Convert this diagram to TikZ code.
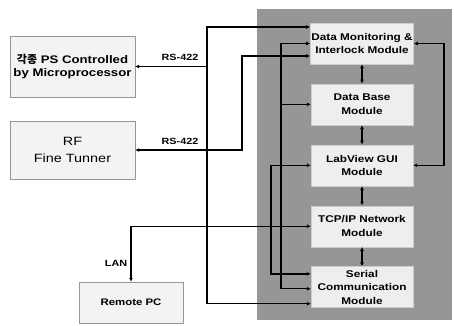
\documentclass[tikz,border=0pt]{standalone}
\usepackage{fontspec}
\setmainfont{Liberation Sans}[FakeStretch=1.2]
\newfontfamily\krfont{Noto Sans CJK KR}
\usetikzlibrary{arrows.meta,positioning,calc}
\definecolor{panelgray}{RGB}{150,150,150}
\definecolor{modfill}{RGB}{238,238,238}
\definecolor{modline}{RGB}{205,205,205}
\definecolor{boxfill}{RGB}{243,243,243}
\definecolor{boxline}{RGB}{150,150,150}

\begin{document}
\begin{tikzpicture}[x=1pt, y=-1pt,
        >={Latex[length=4pt,width=4pt]},
        mod/.style={draw=modline, fill=modfill, align=center, inner sep=1pt,
            font=\fontsize{9.8}{13.5}\selectfont\bfseries,
            minimum width=102pt, minimum height=41pt},
        src/.style={draw=boxline, fill=boxfill, align=center, inner sep=1pt,
            minimum width=125pt},
        lbl/.style={font=\fontsize{9}{10}\selectfont\bfseries, inner sep=1pt},
        line/.style={<->, line width=1.4pt},
        tap/.style={->, line width=1.4pt}]
        \useasboundingbox (0,0) rectangle (454,325);
        \fill[panelgray] (257,9) rectangle (452,320);
        % modules
        \node[mod] (dm) at (362,43.5) {Data Monitoring \&\\ Interlock Module};
        \node[mod, below=19.5pt of dm] (db) {Data Base\\ Module};
        \node[mod, below=19.5pt of db] (gui) {LabView GUI\\ Module};
        \node[mod, below=19.5pt of gui] (tcp) {TCP/IP Network\\ Module};
        \node[mod, below=19.5pt of tcp] (ser) {Serial\\ Communication\\ Module};
        % outside units
        \node[src, minimum height=61pt, font=\fontsize{11}{12.5}\selectfont\bfseries] (ps) at (72.5,66.5)
            {{\krfont 각종} PS Controlled\\ by Microprocessor};
        \node[src, minimum height=58pt, font=\fontsize{12}{17}\selectfont] (rf) at (72.5,150) {RF\\ Fine Tunner};
        \node[src, minimum width=104pt, minimum height=41pt, font=\fontsize{9.5}{11}\selectfont\bfseries] (pc) at (131,302.5) {Remote PC};
        % bus lines and entry points
        \coordinate (busA) at (207,0);
        \coordinate (busB) at (242,0);
        \coordinate (busC) at (271,0);
        \coordinate (busD) at (281,0);
        \coordinate (busE) at (444,0);
        \coordinate (dmA) at ($(dm.north west)!0.1!(dm.south west)$);
        \coordinate (dmC) at ($(dm.north west)!0.8!(dm.south west)$);
        \coordinate (serA) at ($(ser.north west)!0.18!(ser.south west)$);
        \coordinate (serB) at ($(ser.north west)!0.54!(ser.south west)$);
        \coordinate (serC) at ($(ser.north west)!0.9!(ser.south west)$);
        \draw[line] (dmA) -- (dmA -| busA) -- (busA |- serC) -- (serC);
        \draw[tap] (ps.east -| busA) -- (ps.east);
        \draw[line] (dmC) -- (dmC -| busB) -- (busB |- rf.east) -- (rf.east);
        \draw[line] (gui.west) -- (gui.west -| busC) -- (busC |- serA) -- (serA);
        \draw[line] (dm.west) -- (dm.west -| busD) -- (busD |- serB) -- (serB);
        \draw[tap] (busD |- db.west) -- (db.west);
        \draw[line] (tcp.west) -- (tcp.west -| pc.north) -- (pc.north);
        \draw[line] (dm.east) -- (dm.east -| busE) -- (busE |- gui.east) -- (gui.east);
        \foreach \a/\b in {dm/db, db/gui, gui/tcp, tcp/ser}
            \draw[line] (\a) -- (\b);
        % labels
        \node[lbl] (rs1) at (180,57.5) {RS-422};
        \node[lbl] (rs2) at (180,141) {RS-422};
        \node[lbl] (lan) at (116,263) {LAN};
    \end{tikzpicture}
\end{document}
